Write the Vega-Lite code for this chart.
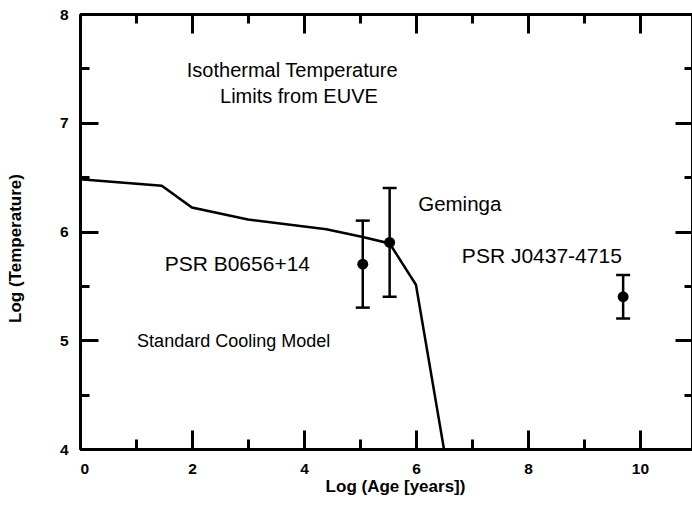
{
  "$schema": "https://vega.github.io/schema/vega-lite/v6.json",
  "width": 612,
  "height": 435,
  "autosize": {"type": "none"},
  "padding": {"left": 80, "top": 14, "right": 0, "bottom": 58},
  "background": "white",
  "config": {
    "view": {"stroke": null},
    "font": "Liberation Sans",
    "axis": {
      "domainColor": "black",
      "domainWidth": 3,
      "tickColor": "black",
      "tickWidth": 3,
      "grid": false,
      "labelFont": "Liberation Sans",
      "labelFontWeight": "bold",
      "labelFontSize": 15.5,
      "labelColor": "black",
      "titleFont": "Liberation Sans",
      "titleFontWeight": "bold",
      "titleFontSize": 17,
      "titleColor": "black"
    }
  },
  "datasets": {
    "curve": [
      {"age": 0.0, "temp": 6.48},
      {"age": 1.46, "temp": 6.42},
      {"age": 2.0, "temp": 6.22},
      {"age": 3.0, "temp": 6.11},
      {"age": 4.4, "temp": 6.02},
      {"age": 5.05, "temp": 5.95},
      {"age": 5.53, "temp": 5.89},
      {"age": 6.0, "temp": 5.51},
      {"age": 6.5, "temp": 4.0}
    ],
    "pulsars": [
      {"name": "PSR B0656+14", "age": 5.05, "temp": 5.7, "lo": 5.3, "hi": 6.1},
      {"name": "Geminga", "age": 5.53, "temp": 5.9, "lo": 5.4, "hi": 6.4},
      {"name": "PSR J0437-4715", "age": 9.7, "temp": 5.4, "lo": 5.2, "hi": 5.6}
    ],
    "one": [{}]
  },
  "layer": [
    {
      "data": {"name": "curve"},
      "mark": {"type": "line", "color": "black", "strokeWidth": 2.5},
      "encoding": {
        "x": {"field": "age", "type": "quantitative",
              "scale": {"domain": [0, 10.93], "nice": false, "zero": false},
              "axis": {"orient": "bottom", "values": [0, 2, 4, 6, 8, 10], "tickSize": -19, "labelPadding": 31, "title": "Log (Age [years])", "titleX": 315, "titleY": 42, "titleAlign": "center", "titleBaseline": "alphabetic"}},
        "y": {"field": "temp", "type": "quantitative",
              "scale": {"domain": [4, 8], "nice": false, "zero": false},
              "axis": {"orient": "left", "values": [4, 5, 6, 7, 8], "tickSize": -18, "labelPadding": 30, "title": "Log (Temperature)", "titleX": -60, "titleY": 234, "titleAngle": -90, "titleAlign": "center", "titleBaseline": "alphabetic"}}
      }
    },
    {
      "data": {"name": "pulsars"},
      "mark": {"type": "rule", "color": "black", "strokeWidth": 2.5},
      "encoding": {
        "x": {"field": "age", "type": "quantitative",
              "axis": {"orient": "bottom", "values": [1, 3, 5, 7, 9], "tickSize": -10, "labels": false, "title": null}},
        "y": {"field": "lo", "type": "quantitative",
              "axis": {"orient": "left", "values": [4.5, 5.5, 6.5, 7.5], "tickSize": -9, "labels": false, "title": null}},
        "y2": {"field": "hi"}
      }
    },
    {
      "data": {"name": "pulsars"},
      "mark": {"type": "tick", "orient": "horizontal", "color": "black", "size": 14, "thickness": 2.5, "opacity": 1},
      "encoding": {
        "x": {"field": "age", "type": "quantitative",
              "axis": {"orient": "top", "values": [0, 2, 4, 6, 8, 10], "tickSize": -19, "labels": false, "title": null}},
        "y": {"field": "hi", "type": "quantitative",
              "axis": {"orient": "right", "values": [4, 5, 6, 7, 8], "tickSize": -17, "labels": false, "title": null}}
      }
    },
    {
      "data": {"name": "pulsars"},
      "mark": {"type": "tick", "orient": "horizontal", "color": "black", "size": 14, "thickness": 2.5, "opacity": 1},
      "encoding": {
        "x": {"field": "age", "type": "quantitative",
              "axis": {"orient": "top", "values": [1, 3, 5, 7, 9], "tickSize": -9, "labels": false, "title": null}},
        "y": {"field": "lo", "type": "quantitative",
              "axis": {"orient": "right", "values": [4.5, 5.5, 6.5, 7.5], "tickSize": -8, "labels": false, "title": null}}
      }
    },
    {
      "data": {"name": "pulsars"},
      "mark": {"type": "point", "filled": true, "color": "black", "size": 120, "opacity": 1},
      "encoding": {
        "x": {"field": "age", "type": "quantitative", "axis": null},
        "y": {"field": "temp", "type": "quantitative", "axis": null}
      }
    },
    {
      "data": {"name": "one"},
      "mark": {"type": "text", "text": "Isothermal Temperature", "fontSize": 20, "align": "center", "baseline": "alphabetic", "color": "black"},
      "encoding": {"x": {"datum": 3.79, "type": "quantitative", "axis": null}, "y": {"datum": 7.42, "type": "quantitative", "axis": null}}
    },
    {
      "data": {"name": "one"},
      "mark": {"type": "text", "text": "Limits from EUVE", "fontSize": 20, "align": "center", "baseline": "alphabetic", "color": "black"},
      "encoding": {"x": {"datum": 3.91, "type": "quantitative", "axis": null}, "y": {"datum": 7.18, "type": "quantitative", "axis": null}}
    },
    {
      "data": {"name": "one"},
      "mark": {"type": "text", "text": "Geminga", "fontSize": 20.5, "align": "left", "baseline": "alphabetic", "color": "black"},
      "encoding": {"x": {"datum": 6.04, "type": "quantitative", "axis": null}, "y": {"datum": 6.19, "type": "quantitative", "axis": null}}
    },
    {
      "data": {"name": "one"},
      "mark": {"type": "text", "text": "PSR B0656+14", "fontSize": 21, "align": "center", "baseline": "alphabetic", "color": "black"},
      "encoding": {"x": {"datum": 2.81, "type": "quantitative", "axis": null}, "y": {"datum": 5.64, "type": "quantitative", "axis": null}}
    },
    {
      "data": {"name": "one"},
      "mark": {"type": "text", "text": "PSR J0437-4715", "fontSize": 21, "align": "left", "baseline": "alphabetic", "color": "black"},
      "encoding": {"x": {"datum": 6.82, "type": "quantitative", "axis": null}, "y": {"datum": 5.71, "type": "quantitative", "axis": null}}
    },
    {
      "data": {"name": "one"},
      "mark": {"type": "text", "text": "Standard Cooling Model", "fontSize": 18, "align": "left", "baseline": "alphabetic", "color": "black"},
      "encoding": {"x": {"datum": 1.02, "type": "quantitative", "axis": null}, "y": {"datum": 4.94, "type": "quantitative", "axis": null}}
    }
  ],
  "resolve": {"axis": {"x": "independent", "y": "independent"}}
}
